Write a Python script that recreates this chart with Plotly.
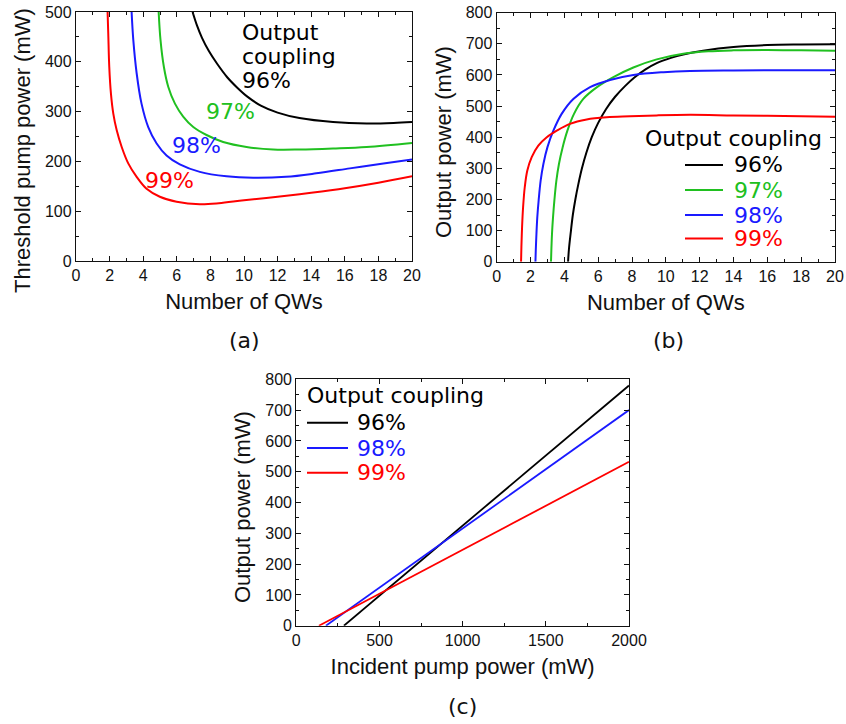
import plotly.graph_objects as go

W, H = 846, 724

# ---------------- data ----------------
series_labels = ["96%", "97%", "98%", "99%"]
series_colors = {"96%": "#000000", "97%": "#20c020", "98%": "#1a1aff", "99%": "#ff0000"}

# (a) threshold pump power vs number of QWs
a_x_96 = [6.94, 7.2, 7.5, 7.9, 8.4, 9.0, 9.6, 10.2, 11.0, 12.0, 13.3, 15.3, 17.3, 18.9, 20]
a_y_96 = [500, 473, 448, 422, 396, 369, 348, 330, 312, 298, 287, 279, 276, 277, 279]
a_x_97 = [4.92, 5.03, 5.23, 5.49, 5.89, 6.38, 6.98, 7.77, 8.76, 10.15, 11.73, 13.32, 15.3, 17.3, 20]
a_y_97 = [500, 444, 390, 350, 316, 290, 269, 253, 239, 229, 224, 224, 226, 229, 237]
a_x_98 = [3.31, 3.41, 3.61, 3.9, 4.3, 4.8, 5.39, 6.18, 7.37, 8.96, 10.55, 12.5, 14.3, 16.3, 18.3, 20]
a_y_98 = [500, 444, 377, 316, 269, 236, 212, 194, 179, 170, 167, 169, 176, 186, 196, 204]
a_x_99 = [1.88, 1.92, 1.98, 2.08, 2.22, 2.42, 2.72, 3.11, 3.61, 4.2, 4.99, 5.99, 7.37, 8.5, 10, 12, 14, 16, 18, 20]
a_y_99 = [500, 457, 390, 336, 296, 263, 229, 196, 169, 145, 129, 119, 114, 116, 122, 129, 137, 146, 157, 170]

# (b) output power vs number of QWs
b_x_96 = [4.22, 4.27, 4.39, 4.5, 4.65, 4.83, 5.04, 5.3, 5.62, 6.0, 6.46, 7.0, 7.6, 8.14, 8.8, 9.46, 10.3, 11.03, 12.2, 14, 16, 18, 20]
b_y_96 = [0, 40, 100, 150, 200, 250, 300, 350, 400, 446, 490, 530, 565, 592, 618, 638, 655, 666, 678, 690, 696, 698, 699]
b_x_97 = [3.21, 3.23, 3.27, 3.33, 3.41, 3.53, 3.68, 3.9, 4.18, 4.57, 5.12, 5.91, 6.9, 8.08, 9.46, 11.03, 12.5, 14, 16, 18, 20]
b_y_97 = [0, 36, 90, 143, 197, 261, 314, 368, 421, 475, 523, 560, 593, 624, 650, 668, 676, 679, 680, 679, 678]
b_x_98 = [2.29, 2.31, 2.35, 2.40, 2.48, 2.6, 2.76, 3.0, 3.35, 3.84, 4.53, 5.52, 6.7, 8.08, 9.86, 11.43, 14, 17, 20]
b_y_98 = [0, 36, 90, 143, 197, 261, 314, 368, 421, 475, 523, 561, 584, 600, 609, 613, 614.5, 615, 615]
b_x_99 = [1.44, 1.46, 1.50, 1.56, 1.66, 1.81, 2.07, 2.46, 2.96, 3.55, 4.33, 5.32, 6.5, 7.88, 9.46, 11.43, 14, 17, 20]
b_y_99 = [0, 47, 111, 175, 240, 293, 336, 373, 400, 421, 443, 457, 464, 467, 470, 472, 470, 468, 466]

# (c) output power vs incident pump power
c_x_96 = [286, 2000]
c_y_96 = [0, 780]
c_x_98 = [178, 2000]
c_y_98 = [0, 700]
c_x_99 = [136, 2000]
c_y_99 = [0, 532]

a_data = {"96%": (a_x_96, a_y_96), "97%": (a_x_97, a_y_97), "98%": (a_x_98, a_y_98), "99%": (a_x_99, a_y_99)}
b_data = {"96%": (b_x_96, b_y_96), "97%": (b_x_97, b_y_97), "98%": (b_x_98, b_y_98), "99%": (b_x_99, b_y_99)}
c_data = {"96%": (c_x_96, c_y_96), "98%": (c_x_98, c_y_98), "99%": (c_x_99, c_y_99)}

# ---------------- helpers ----------------
def px(x):
    return x / W

def py(y):
    return (H - y) / H

TEXT_COLOR = "#111111"
TICK_FONT = dict(family="Liberation Sans, Arial, sans-serif", size=16, color=TEXT_COLOR)
TITLE_FONT = dict(family="Liberation Sans, Arial, sans-serif", size=22, color=TEXT_COLOR)
LABEL_FAMILY = "DejaVu Sans, Verdana, sans-serif"

fig = go.Figure()

for lab in series_labels:
    xs, ys = a_data[lab]
    fig.add_trace(go.Scatter(x=xs, y=ys, mode="lines", line=dict(color=series_colors[lab], width=2, shape="spline", smoothing=1.0),
                             xaxis="x", yaxis="y", showlegend=False, name=lab))
for lab in series_labels:
    xs, ys = b_data[lab]
    fig.add_trace(go.Scatter(x=xs, y=ys, mode="lines", line=dict(color=series_colors[lab], width=2, shape="spline", smoothing=1.0),
                             xaxis="x2", yaxis="y2", showlegend=False, name=lab))
for lab in ["96%", "98%", "99%"]:
    xs, ys = c_data[lab]
    fig.add_trace(go.Scatter(x=xs, y=ys, mode="lines", line=dict(color=series_colors[lab], width=1.8),
                             xaxis="x3", yaxis="y3", showlegend=False, name=lab))

def axis(domain, rng, dtick, minor_dtick, title, anchor, standoff=10):
    d = dict(domain=domain, range=rng, dtick=dtick, tick0=0, showgrid=False, zeroline=False,
             automargin=False,
             showline=True, linecolor=TEXT_COLOR, linewidth=1.3, mirror="ticks",
             ticks="inside", ticklen=5, tickwidth=1.2, tickcolor=TEXT_COLOR,
             minor=dict(dtick=minor_dtick, ticks="inside", ticklen=3, tickwidth=1, tickcolor=TEXT_COLOR, showgrid=False),
             tickfont=TICK_FONT, anchor=anchor)
    if title:
        d["title"] = dict(text=title, font=TITLE_FONT, standoff=standoff)
    return d

fig.update_layout(
    width=W, height=H, margin=dict(l=0, r=0, t=0, b=0, autoexpand=False),
    template="none",
    paper_bgcolor="white", plot_bgcolor="white",
    xaxis=axis([px(76), px(412)], [0, 20], 2, 1, "Number of QWs", "y"),
    yaxis=axis([py(261), py(12)], [0, 500], 100, 50, None, "x"),
    xaxis2=axis([px(496.7), px(835)], [0, 20], 2, 1, "Number of QWs", "y2"),
    yaxis2=axis([py(261.7), py(12.7)], [0, 800], 100, 50, None, "x2"),
    xaxis3=axis([px(296.3), px(629)], [0, 2000], 500, 250, "Incident pump power (mW)", "y3"),
    yaxis3=axis([py(625.7), py(379.3)], [0, 800], 100, 50, None, "x3"),
)

annotations = []
shapes = []

def text(x, y, s, color, size=22, xanchor="left", family=LABEL_FAMILY, angle=0):
    annotations.append(dict(x=px(x), y=py(y), xref="paper", yref="paper", text=s, showarrow=False,
                            xanchor=xanchor, yanchor="middle", textangle=angle,
                            font=dict(family=family, size=size, color=color)))

# y-axis titles
text(22, 151, "Threshold pump power (mW)", TEXT_COLOR, size=22, xanchor="center", family=TITLE_FONT["family"], angle=-90)
text(443, 142, "Output power (mW)", TEXT_COLOR, size=22, xanchor="center", family=TITLE_FONT["family"], angle=-90)
text(242, 507, "Output power (mW)", TEXT_COLOR, size=22, xanchor="center", family=TITLE_FONT["family"], angle=-90)

# panel (a) direct labels
text(240, 32.5, "Output", "#000000")
text(240, 56, "coupling", "#000000")
text(240, 80, "96%", series_colors["96%"])
text(204, 111.5, "97%", series_colors["97%"])
text(170, 145, "98%", series_colors["98%"])
text(142.7, 180, "99%", series_colors["99%"])

# panel (b) legend
text(642.7, 138, "Output coupling", "#000000")
for lab, yy in zip(series_labels, [165, 190, 215, 238.5]):
    shapes.append(dict(type="line", xref="paper", yref="paper", x0=px(685), x1=px(723), y0=py(yy), y1=py(yy),
                       line=dict(color=series_colors[lab], width=2)))
    text(731.7, yy, lab, series_colors[lab])

# panel (c) legend
text(305, 395, "Output coupling", "#000000")
for lab, yy in zip(["96%", "98%", "99%"], [422.7, 448, 472.7]):
    shapes.append(dict(type="line", xref="paper", yref="paper", x0=px(307), x1=px(348), y0=py(yy), y1=py(yy),
                       line=dict(color=series_colors[lab], width=2)))
    text(355, yy, lab, series_colors[lab])

# panel letters
text(244, 340, "(a)", TEXT_COLOR, size=22, xanchor="center")
text(668, 340, "(b)", TEXT_COLOR, size=22, xanchor="center")
text(463, 706, "(c)", TEXT_COLOR, size=22, xanchor="center")

fig.update_layout(annotations=annotations, shapes=shapes)

fig.write_html("out.html")
